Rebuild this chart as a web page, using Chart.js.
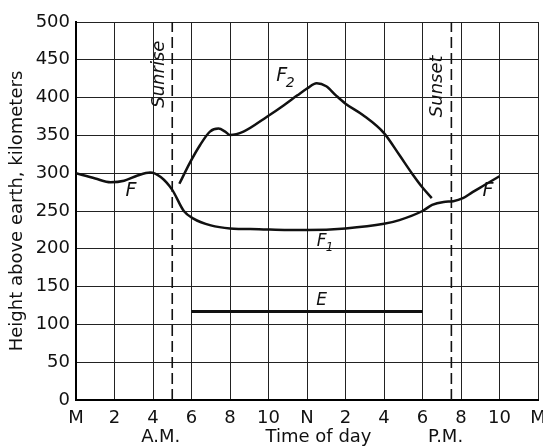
<!DOCTYPE html>
<html>
<head>
<meta charset="utf-8">
<script src="https://cdn.jsdelivr.net/npm/chart.js@4/dist/chart.umd.min.js"></script>
<style>
  html, body { margin: 0; padding: 0; background: #fff; }
  #wrap { width: 543px; height: 448px; }
</style>
</head>
<body>
<div id="wrap"><canvas id="c" width="543" height="448"></canvas></div>
<script>
// ---- data ----
const xTickLabels = ['M','2','4','6','8','10','N','2','4','6','8','10','M'];
const fLayerHours = [0,1,1.8,2.5,3.2,3.85,4.4,5,5.6,6.1,7,8,9.5,11,12,14,16,16.8,18,18.5,19.1,19.6,20.1,20.6,21.2,22];
const fLayerKm    = [300,293,288,290,297,301,295,278,250,240,231,227,226,225,225,227,233,238,250,258,262,263,267,275,284,296];
const f2Hours = [5.37,5.92,6.44,6.96,7.4,7.75,8.0,8.7,9.94,10.8,11.5,12.0,12.5,13.0,13.5,14.0,14.9,16.0,16.8,17.5,18.0,18.48];
const f2Km    = [286,314,337,355,359,355,350.5,355,375,390,403,412,419,415,403,392,377,353,324,298,281,267];
const eHours = [6,18];
const eKm    = [117,117];
const sunriseHour = 5;
const sunsetHour = 19.5;
const yMin = 0, yMax = 500, yStep = 50;
const xMin = 0, xMax = 24, xStep = 2;

// curve labels: [text, subscript, hour, km, fontSize]
const curveLabels = [
  ['F', '', 2.85, 277, 19],
  ['F', '', 21.4, 276, 19],
  ['F', '2', 10.69, 428, 19],
  ['F', '1', 12.76, 209, 17],
  ['E', '', 12.76, 131, 17]
];
// rotated labels: [text, hour, km]
const sideLabels = [
  ['Sunrise', 4.31, 431],
  ['Sunset', 18.75, 415]
];
// second row under axis: [text, hour]
const bottomLabels = [
  ['A.M.', 4.4],
  ['Time of day', 12.6],
  ['P.M.', 19.2]
];

const pts = (xs, ys) => xs.map((x, i) => ({x: x, y: ys[i]}));
const FONT = "'DejaVu Sans', sans-serif";
const INK = '#111';

const textPlugin = {
  id: 'texts',
  afterDatasetsDraw(chart) {
    const ctx = chart.ctx;
    const xs = chart.scales.x, ys = chart.scales.y;
    ctx.save();
    ctx.fillStyle = INK;
    ctx.textAlign = 'center';
    ctx.textBaseline = 'middle';
    curveLabels.forEach(([t, sub, h, v, fs]) => {
      const px = xs.getPixelForValue(h), py = ys.getPixelForValue(v);
      ctx.font = 'italic ' + fs + 'px ' + FONT;
      ctx.fillText(t, px, py);
      if (sub) {
        const w = ctx.measureText(t).width;
        ctx.font = 'italic ' + Math.round(fs * 0.72) + 'px ' + FONT;
        ctx.fillText(sub, px + w * 0.5 + 3, py + fs * 0.35);
      }
    });
    ctx.font = 'italic 18px ' + FONT;
    sideLabels.forEach(([t, h, v]) => {
      ctx.save();
      ctx.translate(xs.getPixelForValue(h), ys.getPixelForValue(v));
      ctx.rotate(-Math.PI / 2);
      ctx.fillText(t, 0, 0);
      ctx.restore();
    });
    ctx.font = '18px ' + FONT;
    const rowY = chart.chartArea.bottom + 37;
    bottomLabels.forEach(([t, h]) => {
      ctx.fillText(t, xs.getPixelForValue(h), rowY);
    });
    ctx.restore();
  }
};

new Chart(document.getElementById('c'), {
  type: 'line',
  data: {
    datasets: [
      { data: pts(fLayerHours, fLayerKm), borderColor: INK, borderWidth: 2.5, pointRadius: 0, cubicInterpolationMode: 'monotone' },
      { data: pts(f2Hours, f2Km), borderColor: INK, borderWidth: 2.5, pointRadius: 0, cubicInterpolationMode: 'monotone' },
      { data: pts(eHours, eKm), borderColor: INK, borderWidth: 3, pointRadius: 0 },
      { data: pts([sunriseHour, sunriseHour], [yMin, yMax]), borderColor: INK, borderWidth: 1.6, borderDash: [11, 5], pointRadius: 0 },
      { data: pts([sunsetHour, sunsetHour], [yMin, yMax]), borderColor: INK, borderWidth: 1.6, borderDash: [11, 5], pointRadius: 0 }
    ]
  },
  options: {
    responsive: false,
    animation: false,
    layout: { padding: { left: 0, right: 5, top: 22, bottom: 0 } },
    plugins: { legend: { display: false }, tooltip: { enabled: false } },
    scales: {
      x: {
        type: 'linear', min: xMin, max: xMax,
        afterFit(s) { s.height = 48; s.paddingLeft = 0; s.paddingRight = 0; },
        ticks: {
          stepSize: xStep, autoSkip: false, maxRotation: 0, padding: 8,
          color: INK, font: { family: FONT, size: 18 },
          callback: (v) => xTickLabels[Math.round(v / xStep)]
        },
        grid: { color: '#222', lineWidth: 1, drawTicks: false },
        border: { color: '#000', width: 2 }
      },
      y: {
        min: yMin, max: yMax,
        afterFit(s) { s.width = 76; s.paddingTop = 0; s.paddingBottom = 0; },
        ticks: { stepSize: yStep, padding: 6, color: INK, font: { family: FONT, size: 18 } },
        grid: { color: '#222', lineWidth: 1, drawTicks: false },
        border: { color: '#000', width: 2 },
        title: { display: true, text: 'Height above earth, kilometers', color: INK, font: { family: FONT, size: 18 }, padding: { top: 7, bottom: 0 } }
      }
    }
  },
  plugins: [textPlugin]
});
</script>
</body>
</html>
